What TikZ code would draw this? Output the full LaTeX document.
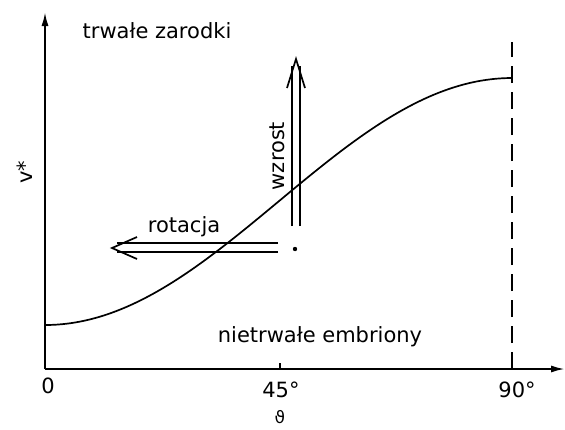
\documentclass[tikz,border=0pt]{standalone}
\usepackage{fontspec}
\setmainfont{DejaVu Sans}
\usetikzlibrary{positioning,calc}
\usetikzlibrary{arrows.meta}
\tikzset{
  axis/.style={draw=black,line width=2pt,-{Latex[length=14pt,width=7pt]}},
  curve/.style={draw=black,line width=1.7pt},
  guide/.style={draw=black,line width=1.7pt,dash pattern=on 17pt off 9pt},
  rail/.style={draw=black,line width=1.7pt},
  lbl/.style={inner sep=0pt,anchor=base,font=\fontsize{21}{25}\selectfont},
}
\begin{document}
\begin{tikzpicture}[x=1pt,y=-1pt]
\useasboundingbox (0,0) rectangle (565,429);
\coordinate (orig) at (45,369);
\coordinate (ytop) at (45,12);
\coordinate (xend) at (565,369);
\coordinate (t45) at (280,369);
\coordinate (t90) at (512,369);
\coordinate (top90) at (512,42);
% axes
\draw[axis] (orig) -- (ytop);
\draw[axis] (orig) -- (xend);
\draw[line width=1.7pt] (t45) -- ++(0,-6);
\draw[guide] (t90) -- (top90);
% v*(theta)
\draw[curve] plot[domain=0:90,samples=80,smooth]
  ({45+(\x/90)*467},{325-247*sin(\x)^2});
% seed point and the two double arrows
\coordinate (seed) at (295,249);
\coordinate (upL0) at (292,226);
\coordinate (upR0) at (300,226);
\coordinate (upL1) at (292,66);
\coordinate (upR1) at (300,66);
\coordinate (upTip) at (296,59);
\draw[rail] (upL0) -- (upL1);
\draw[rail] (upR0) -- (upR1);
\draw[rail] ($(upTip)+(-9,29)$) -- (upTip) -- ($(upTip)+(9,29)$);
\coordinate (lfT0) at (278,243);
\coordinate (lfB0) at (278,252);
\coordinate (lfT1) at (117,243);
\coordinate (lfB1) at (117,252);
\coordinate (lfTip) at (112,248);
\draw[rail] (lfT0) -- (lfT1);
\draw[rail] (lfB0) -- (lfB1);
\draw[rail] ($(lfTip)+(25,-11)$) -- (lfTip) -- ($(lfTip)+(25,11)$);
\fill (seed) circle (2.2pt);
% labels
\node[lbl] (stable) at (157,38) {trwałe zarodki};
\node[lbl] (unstable) at (320,342) {nietrwałe embriony};
\node[lbl] (rot) at (184,232) {rotacja};
\node[lbl,rotate=90] (grow) at (284,156) {wzrost};
\node[lbl,rotate=90] (vstar) at (32,172) {v*};
\node[lbl] (l0) at (48,393) {0};
\node[lbl] (l45) at (281,397) {45°};
\node[lbl] (l90) at (517,397) {90°};
\node[lbl,font=\fontsize{17}{19}\selectfont] (theta) at (280,423) {ϑ};
\end{tikzpicture}
\end{document}
